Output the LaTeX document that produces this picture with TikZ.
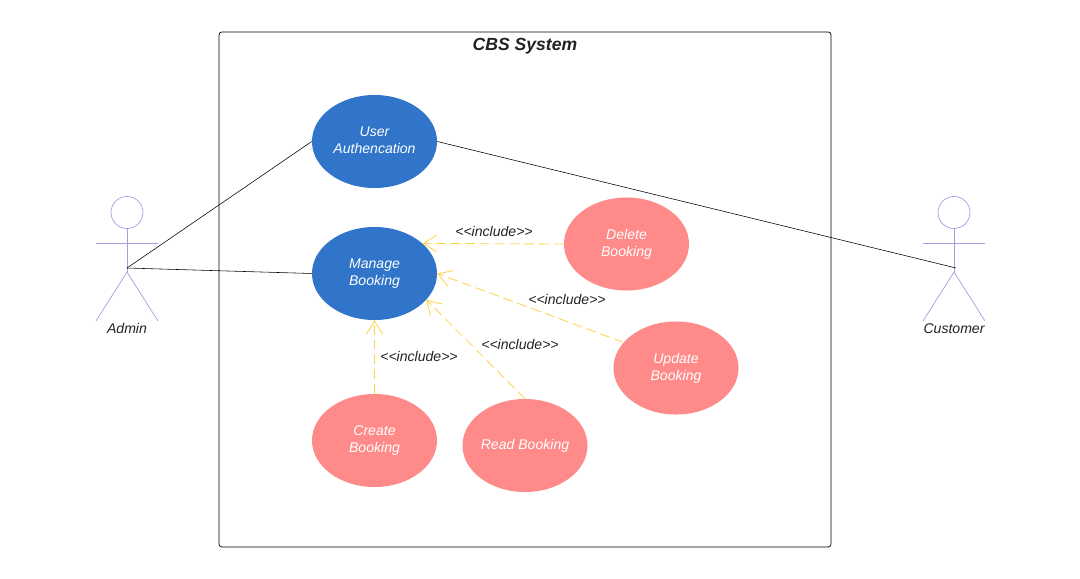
\documentclass[tikz,border=0pt]{standalone}
\usepackage{fontspec}
\setmainfont{Liberation Sans}
\usepackage{tikz}
\usetikzlibrary{shapes}
\usetikzlibrary{arrows.meta}
\definecolor{usecaseblue}{RGB}{48,117,201}
\definecolor{usecasepink}{RGB}{255,138,138}
\definecolor{actorline}{RGB}{160,160,225}
\definecolor{includeline}{RGB}{253,211,78}
\definecolor{darktext}{RGB}{34,34,34}
\tikzset{
  usecase/.style={ellipse, minimum width=3.125cm, minimum height=2.325cm, inner sep=0pt, align=center, text=white, font=\itshape\fontsize{10}{12}\selectfont},
  mainusecase/.style={usecase, fill=usecaseblue},
  subusecase/.style={usecase, fill=usecasepink},
  actorpart/.style={draw=actorline, line width=0.5pt},
  actorhead/.style={actorpart, circle, minimum size=0.8cm, inner sep=0pt},
  actorname/.style={text=darktext, font=\itshape\fontsize{10}{12}\selectfont},
  assoc/.style={draw=black, line width=0.4pt},
  include/.style={draw=includeline, line width=0.6pt, dashed, dash pattern=on 7pt off 3.5pt, -{Straight Barb[length=9.5pt, width=12pt, line width=0.6pt]}},
  includelabel/.style={text=darktext, font=\itshape\fontsize{10}{12}\selectfont}
}

\begin{document}
\begin{tikzpicture}[x=0.025cm, y=-0.025cm]
\useasboundingbox (0, 0) rectangle (1080, 579);
\draw[draw=black, line width=0.5pt, rounded corners=2pt] (219, 32) rectangle (831, 547);
\node[text=darktext, font=\bfseries\itshape\fontsize{12.5}{15}\selectfont] (title) at (525, 46) {CBS System};

% actors
\node[actorhead] (adminHead) at (127, 212.5) {};
\coordinate (adminHip) at (127, 272);
\coordinate (adminHand) at (127, 268);
\draw[actorpart] (adminHead.south) -- (adminHip);
\draw[actorpart] (96, 243) -- (158, 243);
\draw[actorpart] (96, 321) -- (adminHip) -- (158, 321);
\node[actorname] (admin) at (127, 328) {Admin};

\node[actorhead] (customerHead) at (954, 212.5) {};
\coordinate (customerHip) at (954, 272);
\coordinate (customerHand) at (956, 268);
\draw[actorpart] (customerHead.south) -- (customerHip);
\draw[actorpart] (923, 243) -- (985, 243);
\draw[actorpart] (923, 321) -- (customerHip) -- (985, 321);
\node[actorname] (customer) at (954, 329) {Customer};

% use cases
\node[mainusecase] (userAuth) at (374.5, 141.5) {User\\Authencation\vphantom{g}};
\node[mainusecase] (manage) at (374.5, 273.5) {Manage\\Booking};
\node[subusecase] (delete) at (626.5, 244) {Delete\\Booking};
\node[subusecase] (update) at (676, 368) {Update\\Booking};
\node[subusecase] (create) at (374.5, 440.5) {Create\\Booking};
\node[subusecase] (read) at (525, 445.5) {\raisebox{1pt}{Read Booking}};

% connectors
\draw[assoc] (adminHand) -- (userAuth.west);
\draw[assoc] (adminHand) -- (manage.west);
\draw[assoc] (userAuth.east) -- (customerHand);
\draw[include] (delete.west) -- (manage.32);
\draw[include] (update.154) -- (manage.east);
\draw[include] (read.north) -- (manage.-27);
\draw[include] (create.north) -- (manage.south);

\node[includelabel] (labelDelete) at (494, 231) {{<}{<}include{>}{>}};
\node[includelabel] (labelUpdate) at (567, 299) {{<}{<}include{>}{>}};
\node[includelabel] (labelRead) at (520, 344) {{<}{<}include{>}{>}};
\node[includelabel] (labelCreate) at (419, 356) {{<}{<}include{>}{>}};
\end{tikzpicture}
\end{document}
